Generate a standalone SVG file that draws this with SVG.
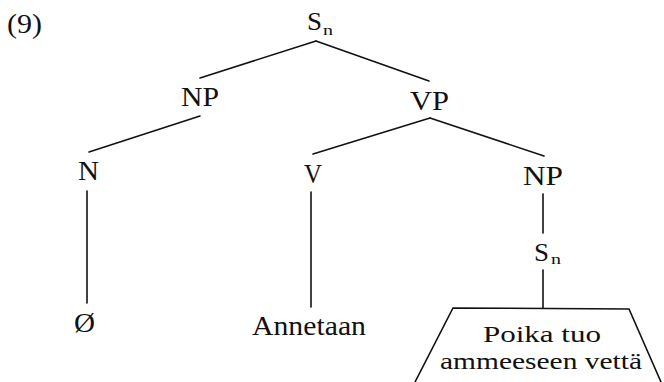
<svg xmlns="http://www.w3.org/2000/svg" width="664" height="382" viewBox="0 0 664 382">
<style>
text{font-family:"Liberation Serif","Times New Roman",serif;font-size:27px;fill:#111}
.sub{font-size:15px}
.box{font-size:24px}
.edge{stroke:#111;stroke-width:1.6;fill:none;stroke-linecap:round}
</style>
<rect width="664" height="382" fill="#fff"/>
<text x="7" y="33" textLength="35" lengthAdjust="spacingAndGlyphs">(9)</text>
<g id="connectors">
<line class="edge" x1="316" y1="41" x2="200" y2="78"/>
<line class="edge" x1="316" y1="41" x2="429" y2="81"/>
<line class="edge" x1="200" y1="116" x2="89" y2="152"/>
<line class="edge" x1="430" y1="118" x2="313" y2="154"/>
<line class="edge" x1="430" y1="118" x2="544" y2="156"/>
<line class="edge" x1="87" y1="191" x2="87" y2="303"/>
<line class="edge" x1="311" y1="192" x2="311" y2="307"/>
<line class="edge" x1="543" y1="194" x2="543" y2="233"/>
<line class="edge" x1="543" y1="270" x2="543" y2="308"/>
</g>
<g id="S-root"><text x="307" y="30" textLength="15" lengthAdjust="spacingAndGlyphs" style="font-size:26px">S</text><text class="sub" x="323" y="35" textLength="10" lengthAdjust="spacingAndGlyphs">n</text></g>
<g id="NP1"><text x="181" y="106" textLength="38" lengthAdjust="spacingAndGlyphs">NP</text></g>
<g id="VP"><text x="410" y="110" textLength="39" lengthAdjust="spacingAndGlyphs">VP</text></g>
<g id="N"><text x="78" y="180" textLength="21" lengthAdjust="spacingAndGlyphs">N</text></g>
<g id="V"><text x="304" y="183" textLength="18" lengthAdjust="spacingAndGlyphs">V</text></g>
<g id="NP2"><text x="523" y="185" textLength="40" lengthAdjust="spacingAndGlyphs">NP</text></g>
<g id="S-embedded"><text x="534" y="261" textLength="15" lengthAdjust="spacingAndGlyphs" style="font-size:26px">S</text><text class="sub" x="551" y="264" textLength="10" lengthAdjust="spacingAndGlyphs">n</text></g>
<g id="empty"><text x="74" y="332" textLength="21" lengthAdjust="spacingAndGlyphs">Ø</text></g>
<g id="Annetaan"><text x="252" y="335" textLength="114" lengthAdjust="spacingAndGlyphs">Annetaan</text></g>
<g id="triangle">
<polyline class="edge" points="415,382 453,308 629,309 661,382"/>
<text class="box" x="483" y="342" textLength="118" lengthAdjust="spacingAndGlyphs">Poika tuo</text>
<text class="box" x="440" y="369" textLength="202" lengthAdjust="spacingAndGlyphs">ammeeseen vettä</text>
</g>
</svg>
